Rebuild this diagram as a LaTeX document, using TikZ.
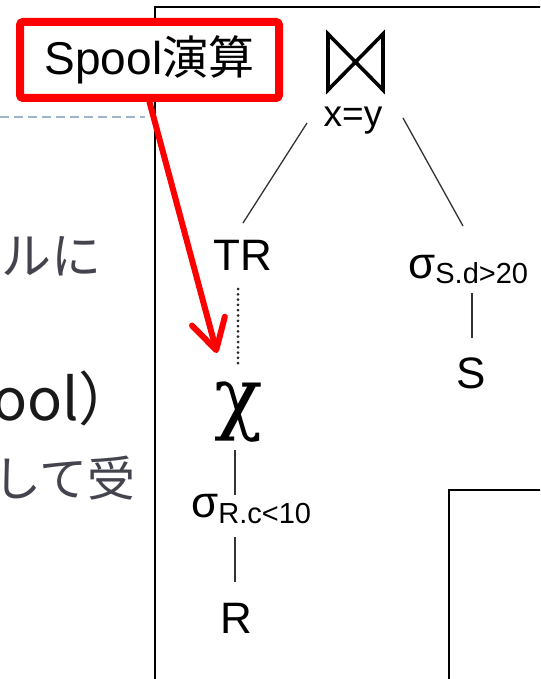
\documentclass[tikz,border=0pt]{standalone}
\usepackage{fontspec}
\setmainfont{Liberation Sans}
\newfontfamily\jp{Noto Sans CJK JP}
\newfontfamily\dejaserif{DejaVu Serif}
\usetikzlibrary{arrows.meta,calc}
\definecolor{slidegray}{HTML}{44444F}
\definecolor{dashblue}{HTML}{9FB4CC}
\definecolor{callred}{HTML}{FF0000}
\newcommand{\fsz}[1]{\fontsize{#1}{#1}\selectfont}
\begin{document}
\begin{tikzpicture}[x=1pt,y=-1pt,
  frame/.style={line width=2pt, draw=black},
  treeedge/.style={line width=1.3pt, draw=black!80},
  dotedge/.style={line width=3pt, draw=black!85, line cap=round, dash pattern=on 0pt off 5.3pt},
  bowtie/.style={line width=3.6pt, draw=black, line join=miter},
  lbl/.style={inner sep=0pt, text=black},
  slidetext/.style={inner sep=0pt, anchor=base east},
  callout/.style={draw=callred, line width=8pt, fill=white, rounded corners=3pt,
    minimum width=259pt, minimum height=76pt, inner sep=0pt},
  callarrow/.style={draw=callred, line width=6pt, line cap=round,
    -{Straight Barb[length=30pt,width=34pt,round]}}
]
\useasboundingbox (0,0) rectangle (540,679);
\clip (0,0) rectangle (540,679);
\fill[white] (0,0) rectangle (540,679);

% slide frames
\draw[frame] (155,700) -- (155,7) -- (560,7);
\draw[frame] (449,700) -- (449,490) -- (560,490);
\draw[draw=dashblue, line width=1.3pt, dash pattern=on 9pt off 5pt] (0,117) -- (145,117);

% partial slide text at left
\node[slidetext, text=slidegray, font={\jp\fsz{50}}] (t1) at (102,274) {ルに};
\node[slidetext, text=black!90, font={\jp\fsz{58}}] (t2) at (137,420) {pool）};
\node[slidetext, text=slidegray, font={\jp\fsz{48}}] (t3) at (136,496) {して受};

% tree
\coordinate (join) at (355,62);
\draw[bowtie] ($(join)+(-27,-28)$) -- ($(join)+(28,28)$) -- ($(join)+(28,-28)$)
  -- ($(join)+(-27,28)$) -- cycle;
\node[lbl, anchor=base, font={\fsz{37}}] (xy) at (353,127) {x=y};
\node[lbl, anchor=base, font={\fsz{44}}] (TR) at (243,270) {TR};
\node[lbl, anchor=base west] (sS) at (408,278)
  {{\fsz{44}σ}{\fsz{29}\raisebox{-5pt}{S.d>20}}};
\node[lbl, anchor=base, font={\fsz{44}}] (S) at (471,388) {S};
\node[lbl, anchor=base, font={\dejaserif\fsz{80}}] (chi) at (239,424) {χ};
\node[lbl, anchor=base west] (sR) at (191,517)
  {{\fsz{44}σ}{\fsz{29}\raisebox{-6pt}{R.c<10}}};
\node[lbl, anchor=base, font={\fsz{44}}] (R) at (236,633) {R};

\draw[treeedge] ($(xy.base)+(-46,-4)$) -- ($(TR.base)+(0,-47)$);
\draw[treeedge] ($(xy.base)+(50,-9)$) -- ($(sS.base west)+(55,-52)$);
\draw[dotedge] ($(TR.base)+(-5,19)$) -- ($(chi.base)+(-1,-58)$);
\draw[treeedge] ($(chi.base)+(-4,26)$) -- ($(sR.base west)+(44,-22)$);
\draw[treeedge] ($(sR.base west)+(44,20)$) -- ($(R.base)+(-1,-51)$);
\draw[treeedge] ($(sS.base west)+(64,15)$) -- ($(S.base)+(1,-50)$);

% callout
\node[callout, font={\fsz{46}}] (spool) at (149.5,60) {Spool{\jp 演算}};
\coordinate (arrowtip) at (217,353);
\draw[callarrow] (spool.south) -- (arrowtip);
\end{tikzpicture}
\end{document}
